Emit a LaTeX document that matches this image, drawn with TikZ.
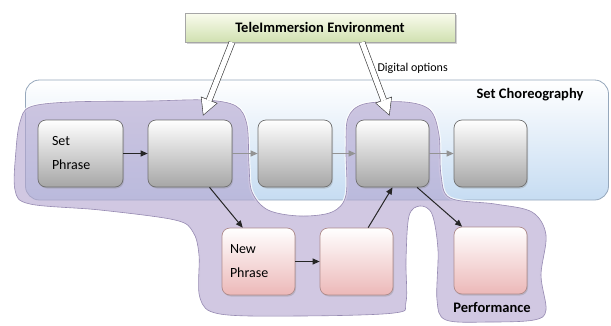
\documentclass[tikz,border=0pt]{standalone}
\usepackage{fontspec}
\setmainfont{Carlito}
\usetikzlibrary{arrows.meta,calc,shadows}

\definecolor{chorborder}{RGB}{150,168,188}
\definecolor{chorbottom}{RGB}{198,220,242}
\definecolor{envtop}{RGB}{250,252,238}
\definecolor{envbottom}{RGB}{208,224,176}
\definecolor{grayborder}{RGB}{112,112,112}
\definecolor{graybottom}{RGB}{166,166,166}
\definecolor{pinkborder}{RGB}{175,140,140}
\definecolor{pinkbottom}{RGB}{236,184,184}
\definecolor{blobfill}{RGB}{180,166,208}
\definecolor{blobline}{RGB}{150,138,178}

\begin{document}
\begin{tikzpicture}[x=1pt,y=-1pt]

\tikzset{
  ChorBox/.style  = {draw=chorborder, line width=.8pt, rounded corners=14pt,
                     top color=white, bottom color=chorbottom, inner sep=0pt},
  EnvBox/.style   = {draw=gray!70, line width=.6pt, top color=envtop, bottom color=envbottom,
                     minimum width=270pt, minimum height=29pt, inner sep=0pt,
                     drop shadow={shadow xshift=1.5pt, shadow yshift=-2pt, opacity=.35},
                     font=\fontsize{14.5}{16}\selectfont\bfseries},
  PhraseBox/.style = {draw=grayborder, line width=.7pt, rounded corners=8pt,
                     top color=white, bottom color=graybottom,
                     minimum height=67pt, inner sep=0pt,
                     drop shadow={shadow xshift=1pt, shadow yshift=-1.5pt, opacity=.3}},
  NewBox/.style   = {PhraseBox, draw=pinkborder, bottom color=pinkbottom},
  BoxText/.style  = {align=left, text width=57pt, font=\fontsize{14}{24}\selectfont},
  Label/.style    = {font=\fontsize{14.5}{16}\selectfont\bfseries},
  BlackArr/.style = {draw=black!85, line width=1pt, -{Triangle[length=7pt,width=6pt]}},
  GrayArr/.style  = {draw=gray!85, line width=1pt, -{Triangle[length=7pt,width=6pt]}},
  HollowOut/.style = {draw=black!75, line width=6.5pt,
                     -{Triangle[length=17pt,width=18pt,line width=0pt]}},
  HollowIn/.style = {draw=white, line width=5.2pt, shorten >=1.3pt,
                     -{Triangle[length=15pt,width=15.9pt,line width=0pt]}},
  Blob/.style     = {fill=blobfill, fill opacity=.62, draw=blobline, line width=.6pt,
                     preaction={draw=white, line width=3pt, draw opacity=.8}}
}

\useasboundingbox (0,0) rectangle (611,325);

\node[ChorBox, minimum width=583pt, minimum height=120pt] (chor) at (317,140) {};
\node[Label] (chorlabel) at (530,95) {Set Choreography};

\path[Blob] plot[smooth cycle, tension=.55] coordinates {
  (30,107) (70,102) (150,101) (205,100) (236,106) (247,125) (249,165)
  (252,192) (268,210) (300,216) (332,212) (346,195) (346,150) (348,118)
  (364,104) (405,102) (430,110) (439,135) (441,175) (450,198) (495,204)
  (532,212) (546,235) (541,275) (546,310) (534,320) (490,322) (446,320)
  (437,300) (438,250) (432,214) (420,206) (409,216) (406,260) (406,302)
  (394,313) (300,316) (220,314) (200,298) (199,255) (193,232) (175,220)
  (100,210) (30,204) (15,190) (16,150) (20,122)};

\node[PhraseBox, minimum width=85pt] (setp) at (80.5,153.5) {};
\node[BoxText] at (setp) {Set\\Phrase};
\node[PhraseBox, minimum width=84pt] (p2) at (190,153.5) {};
\node[PhraseBox, minimum width=74pt] (p3) at (295,153.5) {};
\node[PhraseBox, minimum width=73pt] (p4) at (392.5,153.5) {};
\node[PhraseBox, minimum width=73pt] (p5) at (490.5,153.5) {};

\node[NewBox, minimum width=73pt] (newp) at (258.5,261.5) {};
\node[BoxText] at (newp) {New\\Phrase};
\node[NewBox, minimum width=73pt] (n2) at (356.5,261.5) {};
\node[NewBox, minimum width=73pt] (perf) at (490.5,260.5) {};
\node[Label] (perflabel) at (492,308) {Performance};

\node[EnvBox] (env) at (320,27.5) {TeleImmersion Environment};
\node[font=\fontsize{12}{14}\selectfont, anchor=west] (digital) at (374,68) {Digital options};

\coordinate (envL) at ($(env.south)+(-88,0)$);
\coordinate (envR) at ($(env.south)+(42,0)$);
\coordinate (tipL) at ($(p2.north)+(13,-4)$);
\coordinate (tipR) at ($(p4.north)+(-3,-4)$);

\draw[HollowOut] (envL) -- (tipL);
\draw[HollowIn] (envL) -- (tipL);
\draw[HollowOut] (envR) -- (tipR);
\draw[HollowIn] (envR) -- (tipR);

\draw[BlackArr] (setp) -- (p2);
\draw[GrayArr] (p2) -- (p3);
\draw[GrayArr] (p3) -- (p4);
\draw[GrayArr] (p4) -- (p5);
\draw[BlackArr] (p2.300) -- (newp.115);
\draw[BlackArr] (newp) -- (n2);
\draw[BlackArr] (n2.71) -- (p4.south);
\draw[BlackArr] (p4.306) -- (perf.130);

\end{tikzpicture}
\end{document}
